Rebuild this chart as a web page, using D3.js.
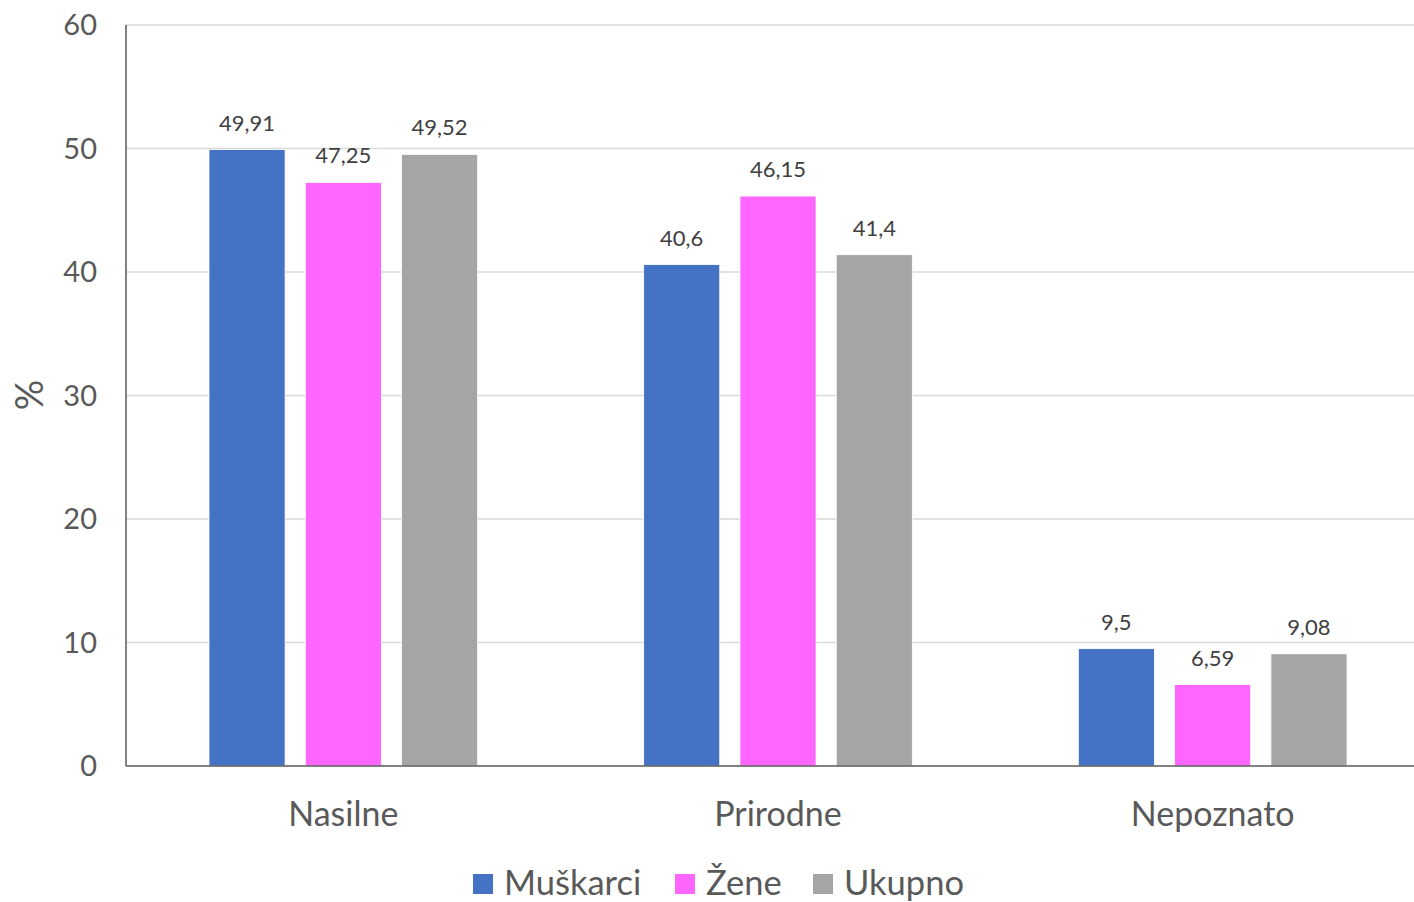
<!DOCTYPE html>
<html lang="hr">
<head>
<meta charset="UTF-8">
<title>Uzroci smrti</title>
<script src="https://d3js.org/d3.v7.min.js"></script>
<style>
  body { margin: 0; background: #fff; }
  text { font-family: Lato, "Open Sans", sans-serif; fill: #595959; }
</style>
</head>
<body>
<div id="chart"></div>
<script>
// data
var categories = ["Nasilne", "Prirodne", "Nepoznato"];
var seriesNames = ["Muškarci", "Žene", "Ukupno"];
var muskarci = [49.91, 40.6, 9.5];
var zene = [47.25, 46.15, 6.59];
var ukupno = [49.52, 41.4, 9.08];
var yTicks = [0, 10, 20, 30, 40, 50, 60];
var colors = ["#4472C4", "#FF66FF", "#A5A5A5"];

var width = 1414, height = 902;
var margin = { top: 25, right: -16, bottom: 136, left: 126 };
var innerW = width - margin.left - margin.right;
var innerH = height - margin.top - margin.bottom;

var svg = d3.select("#chart").append("svg")
    .attr("width", width)
    .attr("height", height);

var g = svg.append("g")
    .attr("transform", "translate(" + margin.left + "," + margin.top + ")");

var x0 = d3.scaleBand().domain(categories).range([0, innerW]).paddingInner(0).paddingOuter(0);
var x1 = d3.scaleBand().domain(seriesNames).range([83, x0.bandwidth() - 83]).paddingInner(0.21).paddingOuter(0);
var y = d3.scaleLinear().domain([0, 60]).range([innerH, 0]);

// gridlines
g.selectAll(".grid")
    .data(yTicks.filter(function(d) { return d > 0; }))
    .enter().append("line")
    .attr("x1", 0).attr("x2", innerW + 20)
    .attr("y1", function(d) { return y(d); })
    .attr("y2", function(d) { return y(d); })
    .attr("stroke", "#d9d9d9")
    .attr("stroke-width", 1.5);

// y tick labels
g.selectAll(".ytick")
    .data(yTicks)
    .enter().append("text")
    .attr("x", -29)
    .attr("y", function(d) { return y(d); })
    .attr("dy", "0.35em")
    .attr("text-anchor", "end")
    .style("font-size", "29px")
    .text(function(d) { return d; });

var rows = categories.map(function(c, i) {
    return { cat: c, values: [muskarci[i], zene[i], ukupno[i]] };
});

var groups = g.selectAll(".grp")
    .data(rows)
    .enter().append("g")
    .attr("transform", function(d) { return "translate(" + x0(d.cat) + ",0)"; });

groups.selectAll("rect")
    .data(function(d) { return d.values.map(function(v, j) { return { name: seriesNames[j], v: v, j: j }; }); })
    .enter().append("rect")
    .attr("x", function(d) { return x1(d.name); })
    .attr("y", function(d) { return y(d.v); })
    .attr("width", x1.bandwidth())
    .attr("height", function(d) { return innerH - y(d.v); })
    .attr("fill", function(d) { return colors[d.j]; })
    .attr("stroke", "#fff")
    .attr("stroke-width", 0.8);

groups.selectAll(".lbl")
    .data(function(d) { return d.values.map(function(v, j) { return { name: seriesNames[j], v: v }; }); })
    .enter().append("text")
    .attr("x", function(d) { return x1(d.name) + x1.bandwidth() / 2; })
    .attr("y", function(d) { return y(d.v) - 19; })
    .attr("text-anchor", "middle")
    .style("font-size", "22px")
    .style("fill", "#404040")
    .text(function(d) { return String(d.v).replace(".", ","); });

// axes lines
g.append("line")
    .attr("x1", 0).attr("x2", innerW + 20)
    .attr("y1", innerH).attr("y2", innerH)
    .attr("stroke", "#595959").attr("stroke-width", 1.5);
g.append("line")
    .attr("x1", 0).attr("x2", 0)
    .attr("y1", 0).attr("y2", innerH)
    .attr("stroke", "#595959").attr("stroke-width", 1.5);

// category labels
g.selectAll(".xlab")
    .data(categories)
    .enter().append("text")
    .attr("x", function(d) { return x0(d) + x0.bandwidth() / 2; })
    .attr("y", innerH + 60)
    .attr("text-anchor", "middle")
    .style("font-size", "34px")
    .text(function(d) { return d; });

// y axis title
svg.append("text")
    .attr("transform", "translate(43,395) rotate(-90)")
    .attr("text-anchor", "middle")
    .style("font-size", "38px")
    .text("%");

// legend
var legendX = [473, 675, 813];
var legend = svg.selectAll(".leg")
    .data(seriesNames)
    .enter().append("g")
    .attr("transform", function(d, i) { return "translate(" + legendX[i] + ",874)"; });
legend.append("rect")
    .attr("width", 20).attr("height", 20)
    .attr("fill", function(d, i) { return colors[i]; });
legend.append("text")
    .attr("x", 31).attr("y", 21)
    .style("font-size", "34.5px")
    .text(function(d) { return d; });
</script>
</body>
</html>
